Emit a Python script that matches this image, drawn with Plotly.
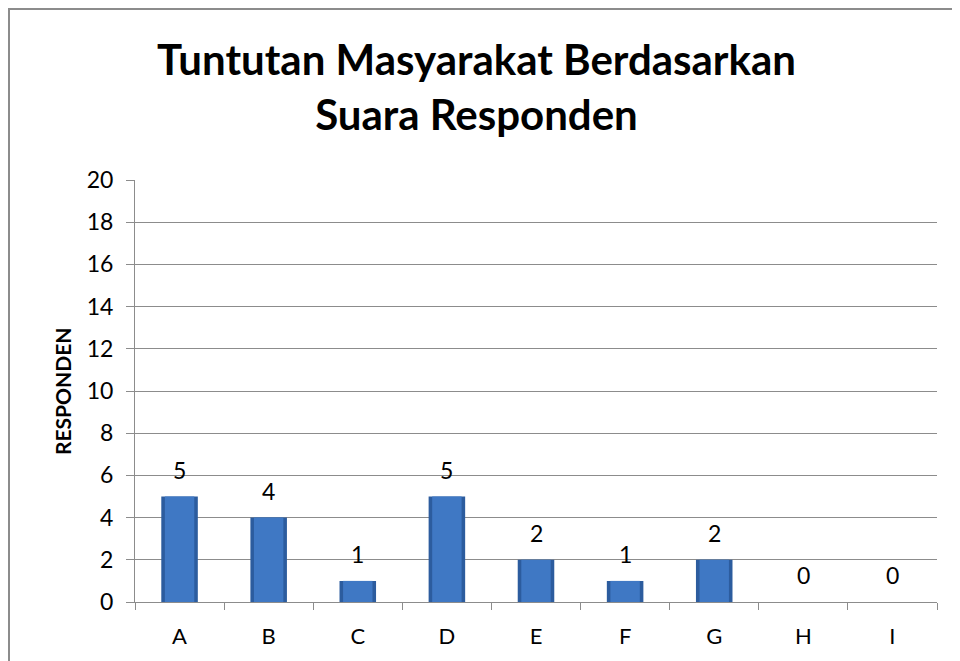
import plotly.graph_objects as go

categories = ["A", "B", "C", "D", "E", "F", "G", "H", "I"]
values = [5, 4, 1, 5, 2, 1, 2, 0, 0]
y_ticks = [0, 2, 4, 6, 8, 10, 12, 14, 16, 18, 20]
title_lines = ["Tuntutan Masyarakat Berdasarkan", "Suara Responden"]
y_title = "RESPONDEN"

OFF = 8  # page body margin
W, H = 960 - OFF, 661 - OFF
PX0, PX1, PY0, PY1 = 135, 937, 180, 602  # plot area in page pixels
L, R, T, B = PX0 - OFF, W - (PX1 - OFF), PY0 - OFF, H - (PY1 - OFF)
pw, ph = PX1 - PX0, PY1 - PY0

def px(x):
    return (x - PX0) / pw

def py(y):
    return (PY1 - y) / ph

FONT = "Lato"

fig = go.Figure()
fig.add_trace(go.Bar(x=categories, y=values, width=0.41,
                     marker=dict(color="#2c5c9e", line=dict(width=0)),
                     hoverinfo="skip", showlegend=False))
fig.add_trace(go.Bar(x=categories, y=values, width=0.33,
                     marker=dict(color="#3f78c4", line=dict(width=0)),
                     hoverinfo="skip", showlegend=False))

annotations = []
for c, v in zip(categories, values):
    annotations.append(dict(x=c, y=v, xref="x", yref="y", text=str(v),
                            showarrow=False, yanchor="middle", yshift=27,
                            font=dict(family=FONT, size=23, color="#000")))

annotations.append(dict(x=px(62), y=py(392), xref="paper", yref="paper",
                        text="<b>%s</b>" % y_title, showarrow=False, textangle=-90,
                        font=dict(family=FONT, size=21, color="#000"),
                        xanchor="center", yanchor="middle"))
annotations.append(dict(x=px(476), y=py(87), xref="paper", yref="paper",
                        text="<br>".join("<b>%s</b>" % t for t in title_lines),
                        showarrow=False, align="center",
                        font=dict(family=FONT, size=42, color="#000"),
                        xanchor="center", yanchor="middle"))

fig.update_layout(
    width=W, height=H,
    margin=dict(l=L, r=R, t=T, b=B),
    paper_bgcolor="white", plot_bgcolor="white",
    barmode="overlay",
    annotations=annotations,
    shapes=[dict(type="rect", xref="paper", yref="paper",
                 x0=px(9), x1=px(975), y0=py(680), y1=py(9),
                 line=dict(color="#8c8c8c", width=2), fillcolor="rgba(0,0,0,0)",
                 layer="below")],
    xaxis=dict(type="category", showgrid=False, showline=True, linecolor="#8c8c8c",
               linewidth=1, ticks="outside", tickson="boundaries", ticklen=7,
               tickcolor="#8c8c8c", tickfont=dict(family=FONT, size=22, color="#000"),
               ticklabelstandoff=15,
               range=[-0.5, len(categories) - 0.5], fixedrange=True),
    yaxis=dict(range=[0, 20], tickvals=y_ticks, showgrid=True, gridcolor="#8c8c8c",
               gridwidth=1, showline=True, linecolor="#8c8c8c", linewidth=1,
               ticks="outside", ticklen=8, tickcolor="#8c8c8c",
               ticklabelstandoff=8,
               tickfont=dict(family=FONT, size=23, color="#000"), zeroline=False,
               fixedrange=True),
)

fig.write_html("out.html")
